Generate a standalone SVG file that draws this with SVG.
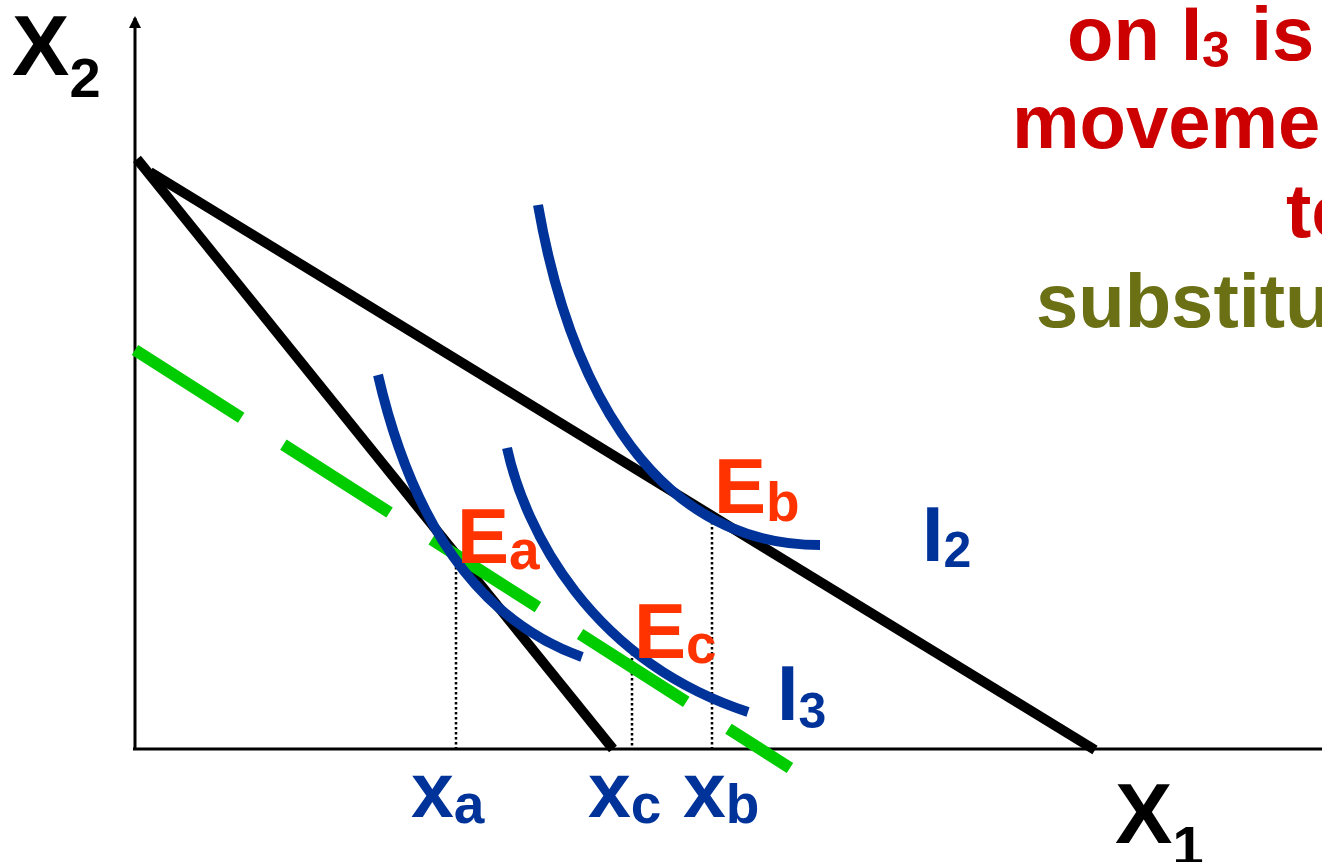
<svg xmlns="http://www.w3.org/2000/svg" width="1322" height="862" viewBox="0 0 1322 862">
<style>
text{font-family:"Liberation Sans",Arial,sans-serif;font-weight:bold}
.ax{stroke:#000;stroke-width:3;fill:none}
.bud{stroke:#000;stroke-width:10;fill:none}
.ic{stroke:#003399;stroke-width:10;fill:none}
.dot{stroke:#000;stroke-width:2.5;stroke-dasharray:2.5 2.5;fill:none}
.lbE{fill:#FF3300;font-size:78px}
.lbB{fill:#003399;font-size:77px}
.sub{font-size:55px}
.red{fill:#CC0000;font-size:76px}
.olive{fill:#6B7014;font-size:76px}
</style>
<defs>
<marker id="ah" markerWidth="12" markerHeight="12" refX="10" refY="6" orient="auto" markerUnits="userSpaceOnUse">
<path d="M0,0 L12,6 L0,12 Z" fill="#000"/>
</marker>
</defs>
<rect width="1322" height="862" fill="#fff"/>
<g id="axes">
<line class="ax" x1="135" y1="750" x2="135" y2="18" marker-end="url(#ah)"/>
<line class="ax" x1="133" y1="749" x2="1332" y2="749" marker-end="url(#ah)"/>
<text x="12" y="75" style="font-size:86px">X<tspan dy="22" style="font-size:56px">2</tspan></text>
<text x="1115" y="843" style="font-size:86px">X<tspan dy="22" style="font-size:56px">1</tspan></text>
</g>
<g id="guides">
<line class="dot" x1="456" y1="562" x2="456" y2="749"/>
<line class="dot" x1="632" y1="653" x2="632" y2="749"/>
<line class="dot" x1="712" y1="512" x2="712" y2="749"/>
</g>
<g id="budget-lines">
<line class="bud" x1="137" y1="159" x2="613" y2="749"/>
<line class="bud" x1="150" y1="172" x2="1095" y2="750"/>
</g>
<g id="compensated-line">
<line x1="135" y1="350" x2="790" y2="768" stroke="#00CC00" stroke-width="12" stroke-dasharray="126 50"/>
</g>
<g id="indifference-curves">
<path id="I2" class="ic" d="M538,205 C565,360 640,545 820,545"/>
<path id="I3a" class="ic" d="M378,375 C400,470 450,610 582,657"/>
<path id="I3b" class="ic" d="M507,448 C525,530 590,660 748,712"/>
</g>
<g id="labels">
<text class="lbE" x="457" y="563">E<tspan class="sub" dy="6">a</tspan></text>
<text class="lbE" x="714" y="513">E<tspan class="sub" dy="8">b</tspan></text>
<text class="lbE" x="634" y="658">E<tspan class="sub" dy="5">c</tspan></text>
<text class="lbB" x="922" y="561">I<tspan style="font-size:50px" dy="6">2</tspan></text>
<text class="lbB" x="777" y="720">I<tspan style="font-size:50px" dy="8">3</tspan></text>
<text class="lbB" x="411" y="817">x<tspan class="sub" dy="6">a</tspan></text>
<text class="lbB" x="588" y="817">x<tspan class="sub" dy="6">c</tspan></text>
<text class="lbB" x="683" y="817">x<tspan class="sub" dy="6">b</tspan></text>
</g>
<g id="note">
<text class="red" x="1067" y="60">on I<tspan style="font-size:50px" dy="7">3</tspan><tspan dy="-7"> is</tspan></text>
<text class="red" x="1012" y="148">movement</text>
<text class="red" x="1286" y="237">to</text>
<text class="olive" x="1036" y="327">substitution</text>
</g>
</svg>
